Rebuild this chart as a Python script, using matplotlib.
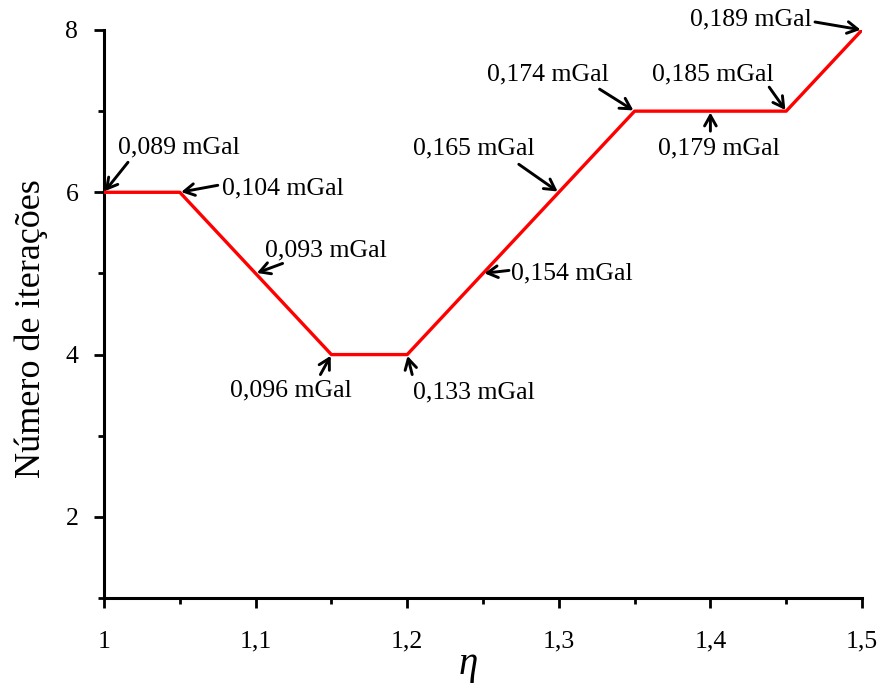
import matplotlib
matplotlib.use("Agg")
import matplotlib.pyplot as plt
from matplotlib.ticker import MultipleLocator

eta = [1.00, 1.05, 1.10, 1.15, 1.20, 1.25, 1.30, 1.35, 1.40, 1.45, 1.50]
iteracoes = [6, 6, 5, 4, 4, 5, 6, 7, 7, 7, 8]
rotulos = ["0,089 mGal", "0,104 mGal", "0,093 mGal", "0,096 mGal", "0,133 mGal",
           "0,154 mGal", "0,165 mGal", "0,174 mGal", "0,179 mGal", "0,185 mGal",
           "0,189 mGal"]
xticks = [1.0, 1.1, 1.2, 1.3, 1.4, 1.5]
xticklabels = ["1", "1,1", "1,2", "1,3", "1,4", "1,5"]
yticks = [2, 4, 6, 8]

# layout: (text offset, arrow tail offset) in pixels relative to each point
text_off = [(14, 45), (42, 4), (9, 23), (-101, -36), (6, -38), (28, 0),
            (-146, 44), (-148, 37), (-52, -37), (-134, 37), (-172, 11)]
tail_off = [(24, 30), (38, 7), (27, 10), (-11, -20), (5, -20), (26, 3),
            (-40, 28), (-35, 22), (0, -20), (-17, 24), (-47, 8)]

plt.rcParams['font.family'] = ['Liberation Serif', 'DejaVu Serif']

fig = plt.figure(figsize=(8.83, 6.85), dpi=100)
ax = fig.add_axes([104/883, 87/685, 758/883, 568/685])

ax.plot(eta, iteracoes, color='#ff0000', lw=2.4, solid_capstyle='butt', zorder=3)

for x, y, lab, to, ta in zip(eta, iteracoes, rotulos, text_off, tail_off):
    ax.annotate('', xy=(x, y), xytext=ta, textcoords='offset pixels',
                arrowprops=dict(arrowstyle='->,head_length=0.75,head_width=0.42',
                                color='black', lw=2.1, shrinkA=0, shrinkB=1),
                annotation_clip=False, zorder=4)
    ax.annotate(lab, xy=(x, y), xytext=to, textcoords='offset pixels',
                ha='left', va='center', fontsize=18.5, annotation_clip=False)

ax.set_xlim(1.0, 1.5)
ax.set_ylim(1, 8)
ax.set_xticks(xticks)
ax.set_xticklabels(xticklabels)
ax.set_yticks(yticks)
ax.xaxis.set_minor_locator(MultipleLocator(0.05))
ax.yaxis.set_minor_locator(MultipleLocator(1))

for s in ['top', 'right']:
    ax.spines[s].set_visible(False)
for s in ['left', 'bottom']:
    ax.spines[s].set_linewidth(2.2)

ax.tick_params(axis='both', which='major', direction='out', length=7.5, width=2.0,
               labelsize=18.5)
ax.tick_params(axis='both', which='minor', direction='out', length=4.5, width=2.0)
ax.tick_params(axis='x', which='major', pad=16)
ax.tick_params(axis='y', which='major', pad=11)

ax.set_ylabel('Número de iterações', fontsize=26)
ax.yaxis.set_label_coords(-0.074, 0.474)
ax.set_xlabel('η', fontsize=28, fontstyle='italic')
ax.xaxis.set_label_coords(0.48, -0.085)

fig.savefig('out.png', dpi=100)
